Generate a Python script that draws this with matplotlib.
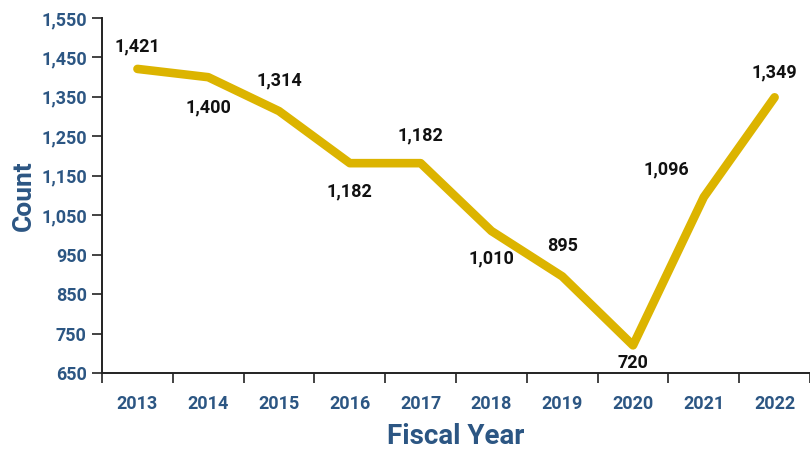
import matplotlib

matplotlib.use("Agg")
import matplotlib.pyplot as plt
from matplotlib.ticker import FixedLocator, FuncFormatter

plt.rcParams["font.family"] = ["Liberation Sans Narrow", "Roboto", "DejaVu Sans"]

YEARS = ["2013", "2014", "2015", "2016", "2017", "2018", "2019", "2020", "2021", "2022"]
COUNTS = [1421, 1400, 1314, 1182, 1182, 1010, 895, 720, 1096, 1349]
Y_TICKS = [650, 750, 850, 950, 1050, 1150, 1250, 1350, 1450, 1550]

# label offsets in points (dx, dy) per year
LABEL_OFFSETS = [(0, 16), (0, -22), (0, 22), (0, -20), (0, 20),
                 (0, -20), (0, 22), (0, -13), (-27, 20), (0, 18)]

NAVY = "#2c5683"
GOLD = "#dcb400"

fig = plt.figure(figsize=(8.1, 4.51), dpi=100)
ax = fig.add_axes([0.126, 0.173, 0.874, 0.787])

x = list(range(len(YEARS)))
ax.plot(x, COUNTS, color=GOLD, linewidth=6.2, solid_capstyle="round", solid_joinstyle="round")

for xi, val, (dx, dy) in zip(x, COUNTS, LABEL_OFFSETS):
    ax.annotate(f"{val:,}", (xi, val), xytext=(dx, dy), textcoords="offset points",
                ha="center", va="center", fontsize=13, fontweight="bold", color="#111111")

ax.set_xlim(-0.5, len(YEARS) - 0.5)
ax.set_ylim(650, 1550)

ax.xaxis.set_major_locator(FixedLocator([i - 0.5 for i in range(len(YEARS) + 1)]))
ax.xaxis.set_minor_locator(FixedLocator(x))
ax.set_xticklabels([])
ax.set_xticklabels(YEARS, minor=True)
ax.tick_params(axis="x", which="major", length=7, width=1.2, color="#222222", direction="out")
ax.tick_params(axis="x", which="minor", length=0, pad=16, labelsize=13, labelcolor=NAVY)

ax.yaxis.set_major_locator(FixedLocator(Y_TICKS))
ax.yaxis.set_major_formatter(FuncFormatter(lambda v, p: f"{int(v):,}"))
ax.tick_params(axis="y", length=7, width=1.2, color="#222222", labelsize=13, labelcolor=NAVY, pad=4)

for lbl in ax.get_xticklabels(minor=True) + ax.get_yticklabels():
    lbl.set_fontweight("bold")

for side in ("top", "right"):
    ax.spines[side].set_visible(False)
for side in ("left", "bottom"):
    ax.spines[side].set_linewidth(1.4)
    ax.spines[side].set_color("#222222")

ax.set_xlabel("Fiscal Year", fontsize=20, fontweight="bold", color=NAVY, labelpad=7)
ax.set_ylabel("Count", fontsize=19, fontweight="bold", color=NAVY, labelpad=4)

fig.savefig("out.png", dpi=100)
